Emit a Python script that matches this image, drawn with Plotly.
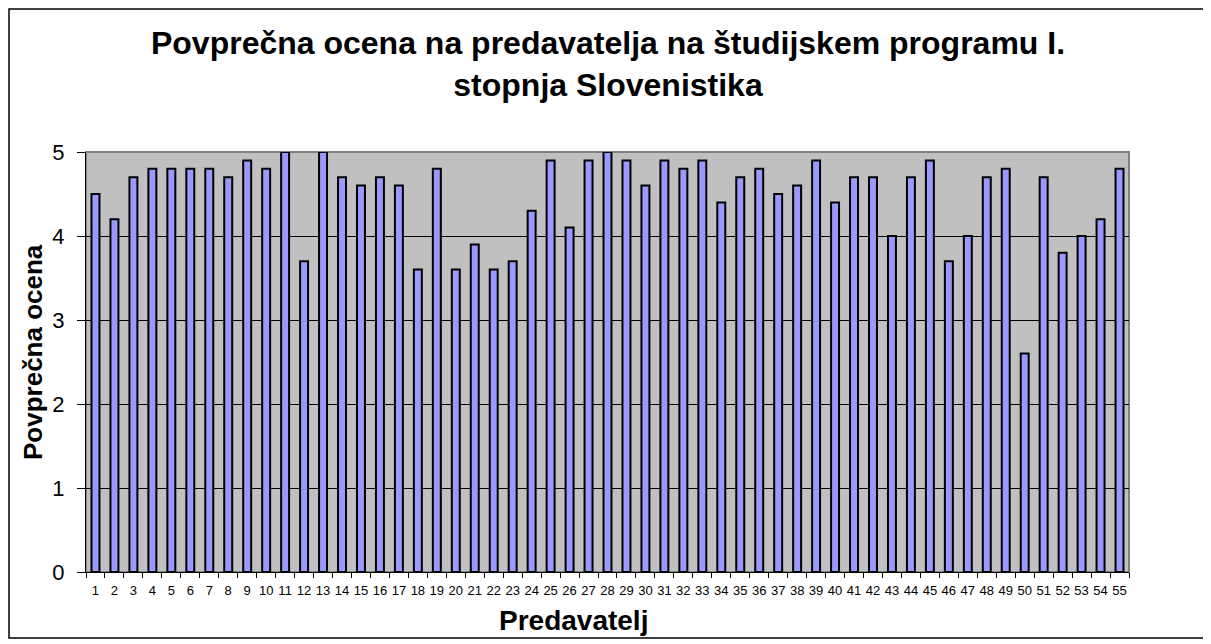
import plotly.graph_objects as go

lecturers = list(range(1, 56))
tick_labels = [str(i) for i in lecturers]
scores = [4.5, 4.2, 4.7, 4.8, 4.8, 4.8, 4.8, 4.7, 4.9, 4.8,
          5.0, 3.7, 5.0, 4.7, 4.6, 4.7, 4.6, 3.6, 4.8, 3.6,
          3.9, 3.6, 3.7, 4.3, 4.9, 4.1, 4.9, 5.0, 4.9, 4.6,
          4.9, 4.8, 4.9, 4.4, 4.7, 4.8, 4.5, 4.6, 4.9, 4.4,
          4.7, 4.7, 4.0, 4.7, 4.9, 3.7, 4.0, 4.7, 4.8, 2.6,
          4.7, 3.8, 4.0, 4.2, 4.8]

title_text = "Povprečna ocena na predavatelja na študijskem programu I.<br>stopnja Slovenistika"
x_title = "Predavatelj"
y_title = "Povprečna ocena"

FONT = "Liberation Sans, Arial, sans-serif"
W, H = 1211, 644
OFF = 8  # page body margin
# plot area in screen pixels
PL, PR, PT, PB = 86, 1129, 152, 572
pw, ph = PR - PL, PB - PT

fig = go.Figure()
fig.add_trace(go.Bar(
    x=lecturers, y=scores,
    marker=dict(color="#9999FF", line=dict(color="black", width=2)),
    width=0.42,
    hoverinfo="x+y",
))

def px_x(p):
    return (p - PL) / pw

def px_y(p):
    return (PB - p) / ph

fig.update_layout(
    width=W, height=H,
    margin=dict(l=PL - OFF, r=W - PR + OFF, t=PT - OFF, b=H - PB + OFF),
    paper_bgcolor="white",
    plot_bgcolor="#C0C0C0",
    showlegend=False,
    title=dict(text="<b>" + title_text + "</b>", x=(608 - OFF) / W, xanchor="center",
               yref="container", y=1 - 46 / H, yanchor="top",
               font=dict(family=FONT, size=32, color="black")),
    font=dict(family=FONT, color="black"),
    xaxis=dict(
        range=[0.5, 55.5],
        tickmode="array", tickvals=lecturers, ticktext=tick_labels,
        tickfont=dict(size=13), ticks="", showgrid=False,
        ticklabelstandoff=6,
        showline=True, linecolor="black", linewidth=1,
        minor=dict(ticks="outside", tick0=0.5, dtick=1, ticklen=5,
                   tickcolor="black", showgrid=False),
        zeroline=False,
    ),
    yaxis=dict(
        range=[0, 5], tickvals=[0, 1, 2, 3, 4, 5], ticks="outside", ticklen=8,
        tickcolor="black", tickfont=dict(size=22), ticklabelstandoff=8,
        showgrid=True, gridcolor="black", gridwidth=1,
        showline=True, linecolor="black", linewidth=1, zeroline=False,
    ),
    annotations=[
        dict(text="<b>" + x_title + "</b>", xref="paper", yref="paper",
             x=px_x(573), y=px_y(620), xanchor="center", yanchor="middle",
             showarrow=False, font=dict(family=FONT, size=28, color="black")),
        dict(text="<b>" + y_title + "</b>", xref="paper", yref="paper",
             x=px_x(33), y=px_y(352), xanchor="center", yanchor="middle",
             textangle=-90, showarrow=False,
             font=dict(family=FONT, size=26, color="black")),
    ],
    shapes=[
        dict(type="rect", xref="paper", yref="paper",
             x0=0, x1=1, y0=0, y1=1,
             line=dict(color="#808080", width=2), layer="below"),
        dict(type="rect", xref="paper", yref="paper",
             x0=px_x(OFF + 1), x1=px_x(1208), y0=px_y(638), y1=px_y(OFF + 1),
             line=dict(color="black", width=1.5), layer="above"),
    ],
)

fig.write_html("out.html")
